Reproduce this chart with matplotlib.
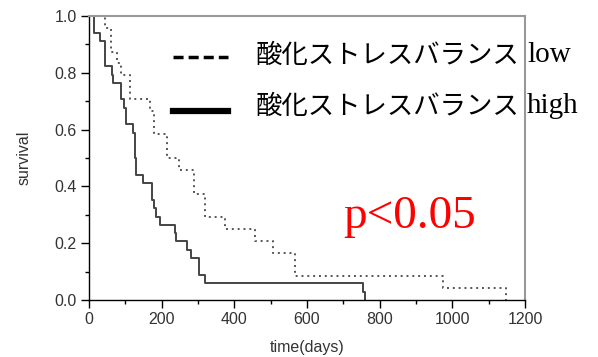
import matplotlib
matplotlib.use("Agg")
import matplotlib.pyplot as plt
from matplotlib.ticker import MultipleLocator

# Kaplan-Meier steps
low_days = [0, 43, 60, 76, 88, 113, 168, 180, 214, 249, 289, 318, 375, 458, 507, 567, 974, 1147]
low_surv = [1.0, 0.958, 0.875, 0.833, 0.792, 0.708, 0.667, 0.583, 0.5, 0.458, 0.375, 0.292, 0.25,
            0.208, 0.167, 0.083, 0.042, 0.0]

high_days = [0, 13, 31, 43, 62, 67, 88, 95, 102, 122, 126, 129, 148, 174, 178, 184, 195, 236, 240,
             269, 281, 304, 320, 753, 759]
high_surv = [1.0, 0.941, 0.912, 0.824, 0.794, 0.765, 0.706, 0.676, 0.618, 0.588, 0.5, 0.441, 0.412,
             0.353, 0.324, 0.294, 0.265, 0.235, 0.206, 0.176, 0.147, 0.088, 0.059, 0.029, 0.0]

group_name = "酸化ストレスバランス"
levels = ["low", "high"]
p_text = "p<0.05"

fig = plt.figure(figsize=(5.98, 3.57), dpi=100)
ax = fig.add_axes([89 / 598, 57 / 357, 436 / 598, 284 / 357])

ax.step(low_days, low_surv, where="post", color="#555555", lw=1.4, linestyle=(0, (1, 2)))
ax.step(high_days, high_surv, where="post", color="#444444", lw=1.4)

ax.set_xlim(0, 1200)
ax.set_ylim(0, 1.0)
ax.xaxis.set_major_locator(MultipleLocator(200))
ax.xaxis.set_minor_locator(MultipleLocator(100))
ax.yaxis.set_major_locator(MultipleLocator(0.2))
ax.yaxis.set_minor_locator(MultipleLocator(0.1))
ax.yaxis.set_major_formatter(plt.FormatStrFormatter("%.1f"))
ax.tick_params(which="major", direction="out", length=6, width=1, color="black",
               labelsize=11.5, labelcolor="#333333", pad=3)
ax.tick_params(which="minor", direction="out", length=3, width=1, color="black")
for lab in ax.get_xticklabels() + ax.get_yticklabels():
    lab.set_family("Liberation Sans")

for side in ["top", "right"]:
    ax.spines[side].set_color("#999999")
    ax.spines[side].set_linewidth(1.5)
for side in ["left", "bottom"]:
    ax.spines[side].set_color("black")
    ax.spines[side].set_linewidth(1.0)

ax.set_xlabel("time(days)", family="Liberation Sans", fontsize=11.5, color="#333333", labelpad=9)
ax.set_ylabel("survival", family="Liberation Sans", fontsize=11.5, color="#333333", labelpad=16)

# hand-made legend
ax.plot([0.193, 0.319], [0.857, 0.857], transform=ax.transAxes, color="black", lw=2.5,
        linestyle=(0, (2.9, 1.45)), clip_on=False)
ax.plot([0.193, 0.319], [0.665, 0.665], transform=ax.transAxes, color="black", lw=4.5,
        clip_on=False)
for yy, lv in zip([0.863, 0.683], levels):
    ax.text(0.381, yy, group_name, transform=ax.transAxes, family="Noto Sans CJK JP",
            fontsize=19, va="center", ha="left")
    ax.text(1.005, yy, lv, transform=ax.transAxes, family="Liberation Serif",
            fontsize=21, va="center", ha="left")

ax.text(0.736, 0.254, p_text, transform=ax.transAxes, family="Liberation Serif",
        fontsize=34, color="red", ha="center", va="baseline")

fig.savefig("out.png", dpi=100)
